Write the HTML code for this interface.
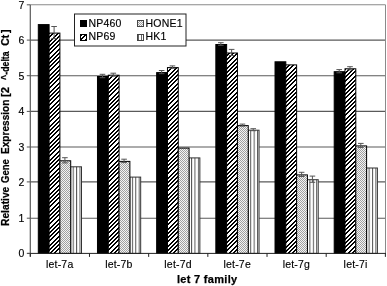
<!DOCTYPE html>
<html><head><meta charset="utf-8"><style>
html,body{margin:0;padding:0;background:#fff;}
body{width:387px;height:286px;overflow:hidden;}
svg{display:block;filter:grayscale(1) blur(0.3px);}
.t{font-family:"Liberation Sans",sans-serif;font-size:10.5px;letter-spacing:0.2px;fill:#000;stroke:#000;stroke-width:0.15px;}
.b{font-family:"Liberation Sans",sans-serif;font-size:11px;letter-spacing:0.3px;font-weight:bold;fill:#000;stroke:#000;stroke-width:0.25px;}
.yt{letter-spacing:0.03px;font-size:10.5px;}
</style></head><body>
<svg width="387" height="286" viewBox="0 0 387 286">
<defs>
<pattern id="diag" patternUnits="userSpaceOnUse" width="17" height="17"><rect width="17" height="17" fill="#fff"/><rect x="0" y="0" width="2" height="1" fill="#000"/><rect x="5" y="0" width="2" height="1" fill="#000"/><rect x="9" y="0" width="2" height="1" fill="#000"/><rect x="13" y="0" width="2" height="1" fill="#000"/><rect x="0" y="1" width="1" height="1" fill="#000"/><rect x="4" y="1" width="2" height="1" fill="#000"/><rect x="8" y="1" width="2" height="1" fill="#000"/><rect x="12" y="1" width="2" height="1" fill="#000"/><rect x="16" y="1" width="1" height="1" fill="#000"/><rect x="3" y="2" width="2" height="1" fill="#000"/><rect x="7" y="2" width="2" height="1" fill="#000"/><rect x="11" y="2" width="2" height="1" fill="#000"/><rect x="15" y="2" width="2" height="1" fill="#000"/><rect x="2" y="3" width="2" height="1" fill="#000"/><rect x="6" y="3" width="2" height="1" fill="#000"/><rect x="10" y="3" width="2" height="1" fill="#000"/><rect x="14" y="3" width="2" height="1" fill="#000"/><rect x="1" y="4" width="2" height="1" fill="#000"/><rect x="5" y="4" width="2" height="1" fill="#000"/><rect x="9" y="4" width="2" height="1" fill="#000"/><rect x="13" y="4" width="2" height="1" fill="#000"/><rect x="0" y="5" width="2" height="1" fill="#000"/><rect x="4" y="5" width="2" height="1" fill="#000"/><rect x="8" y="5" width="2" height="1" fill="#000"/><rect x="12" y="5" width="2" height="1" fill="#000"/><rect x="0" y="6" width="1" height="1" fill="#000"/><rect x="3" y="6" width="2" height="1" fill="#000"/><rect x="7" y="6" width="2" height="1" fill="#000"/><rect x="11" y="6" width="2" height="1" fill="#000"/><rect x="16" y="6" width="1" height="1" fill="#000"/><rect x="2" y="7" width="2" height="1" fill="#000"/><rect x="6" y="7" width="2" height="1" fill="#000"/><rect x="10" y="7" width="2" height="1" fill="#000"/><rect x="15" y="7" width="2" height="1" fill="#000"/><rect x="1" y="8" width="2" height="1" fill="#000"/><rect x="5" y="8" width="2" height="1" fill="#000"/><rect x="9" y="8" width="2" height="1" fill="#000"/><rect x="14" y="8" width="2" height="1" fill="#000"/><rect x="0" y="9" width="2" height="1" fill="#000"/><rect x="4" y="9" width="2" height="1" fill="#000"/><rect x="8" y="9" width="2" height="1" fill="#000"/><rect x="13" y="9" width="2" height="1" fill="#000"/><rect x="0" y="10" width="1" height="1" fill="#000"/><rect x="3" y="10" width="2" height="1" fill="#000"/><rect x="7" y="10" width="2" height="1" fill="#000"/><rect x="12" y="10" width="2" height="1" fill="#000"/><rect x="16" y="10" width="1" height="1" fill="#000"/><rect x="2" y="11" width="2" height="1" fill="#000"/><rect x="6" y="11" width="2" height="1" fill="#000"/><rect x="11" y="11" width="2" height="1" fill="#000"/><rect x="15" y="11" width="2" height="1" fill="#000"/><rect x="1" y="12" width="2" height="1" fill="#000"/><rect x="5" y="12" width="2" height="1" fill="#000"/><rect x="10" y="12" width="2" height="1" fill="#000"/><rect x="14" y="12" width="2" height="1" fill="#000"/><rect x="0" y="13" width="2" height="1" fill="#000"/><rect x="4" y="13" width="2" height="1" fill="#000"/><rect x="9" y="13" width="2" height="1" fill="#000"/><rect x="13" y="13" width="2" height="1" fill="#000"/><rect x="0" y="14" width="1" height="1" fill="#000"/><rect x="3" y="14" width="2" height="1" fill="#000"/><rect x="8" y="14" width="2" height="1" fill="#000"/><rect x="12" y="14" width="2" height="1" fill="#000"/><rect x="16" y="14" width="1" height="1" fill="#000"/><rect x="2" y="15" width="2" height="1" fill="#000"/><rect x="7" y="15" width="2" height="1" fill="#000"/><rect x="11" y="15" width="2" height="1" fill="#000"/><rect x="15" y="15" width="2" height="1" fill="#000"/><rect x="1" y="16" width="2" height="1" fill="#000"/><rect x="6" y="16" width="2" height="1" fill="#000"/><rect x="10" y="16" width="2" height="1" fill="#000"/><rect x="14" y="16" width="2" height="1" fill="#000"/></pattern>
<pattern id="dots" patternUnits="userSpaceOnUse" width="2" height="2"><rect width="2" height="2" fill="#f4f4f4"/><rect width="1" height="1" fill="#a0a0a0"/><rect x="1" y="1" width="1" height="1" fill="#a0a0a0"/></pattern>
<pattern id="vert0" patternUnits="userSpaceOnUse" x="72.70" y="0" width="3.4" height="4"><rect width="3.4" height="4" fill="#fff"/><rect width="1" height="4" fill="#555"/></pattern>
<pattern id="vert1" patternUnits="userSpaceOnUse" x="131.88" y="0" width="3.4" height="4"><rect width="3.4" height="4" fill="#fff"/><rect width="1" height="4" fill="#555"/></pattern>
<pattern id="vert2" patternUnits="userSpaceOnUse" x="191.06" y="0" width="3.4" height="4"><rect width="3.4" height="4" fill="#fff"/><rect width="1" height="4" fill="#555"/></pattern>
<pattern id="vert3" patternUnits="userSpaceOnUse" x="250.24" y="0" width="3.4" height="4"><rect width="3.4" height="4" fill="#fff"/><rect width="1" height="4" fill="#555"/></pattern>
<pattern id="vert4" patternUnits="userSpaceOnUse" x="309.42" y="0" width="3.4" height="4"><rect width="3.4" height="4" fill="#fff"/><rect width="1" height="4" fill="#555"/></pattern>
<pattern id="vert5" patternUnits="userSpaceOnUse" x="368.60" y="0" width="3.4" height="4"><rect width="3.4" height="4" fill="#fff"/><rect width="1" height="4" fill="#555"/></pattern>
<pattern id="vert" patternUnits="userSpaceOnUse" x="138" y="0" width="3" height="3"><rect width="3" height="3" fill="#fff"/><rect width="1" height="3" fill="#666"/></pattern>
</defs>
<line x1="30.3" y1="218.20" x2="385.5" y2="218.20" stroke="#5a5a5a" stroke-width="1.15"/>
<line x1="30.3" y1="181.90" x2="385.5" y2="181.90" stroke="#5a5a5a" stroke-width="1.15"/>
<line x1="30.3" y1="147.00" x2="385.5" y2="147.00" stroke="#5a5a5a" stroke-width="1.15"/>
<line x1="30.3" y1="111.40" x2="385.5" y2="111.40" stroke="#5a5a5a" stroke-width="1.15"/>
<line x1="30.3" y1="75.70" x2="385.5" y2="75.70" stroke="#5a5a5a" stroke-width="1.15"/>
<line x1="30.3" y1="40.10" x2="385.5" y2="40.10" stroke="#5a5a5a" stroke-width="1.15"/>
<line x1="30.3" y1="4.80" x2="385.5" y2="4.80" stroke="#8a8a8a" stroke-width="1.1"/>
<line x1="385.5" y1="4.80" x2="385.5" y2="253.40" stroke="#8a8a8a" stroke-width="1"/>
<rect x="38.30" y="24.60" width="10.80" height="228.80" fill="#000" stroke="#000" stroke-width="1"/>
<rect x="49.10" y="33.10" width="10.80" height="220.30" fill="url(#diag)" stroke="#000" stroke-width="1"/>
<line x1="54.10" y1="26.50" x2="54.10" y2="38.70" stroke="#555" stroke-width="1"/>
<line x1="51.30" y1="26.50" x2="56.90" y2="26.50" stroke="#555" stroke-width="1"/>
<line x1="51.30" y1="38.70" x2="56.90" y2="38.70" stroke="#555" stroke-width="1"/>
<rect x="70.70" y="166.80" width="10.80" height="86.60" fill="url(#vert0)" stroke="#333" stroke-width="1"/>
<rect x="59.90" y="160.80" width="10.80" height="92.60" fill="url(#dots)" stroke="#000" stroke-width="1"/>
<line x1="64.90" y1="157.70" x2="64.90" y2="162.90" stroke="#555" stroke-width="1"/>
<line x1="62.10" y1="157.70" x2="67.70" y2="157.70" stroke="#555" stroke-width="1"/>
<line x1="62.10" y1="162.90" x2="67.70" y2="162.90" stroke="#555" stroke-width="1"/>
<rect x="97.48" y="76.50" width="10.80" height="176.90" fill="#000" stroke="#000" stroke-width="1"/>
<line x1="102.48" y1="74.30" x2="102.48" y2="77.70" stroke="#555" stroke-width="1"/>
<line x1="99.68" y1="74.30" x2="105.28" y2="74.30" stroke="#555" stroke-width="1"/>
<line x1="99.68" y1="77.70" x2="105.28" y2="77.70" stroke="#555" stroke-width="1"/>
<rect x="108.28" y="75.20" width="10.80" height="178.20" fill="url(#diag)" stroke="#000" stroke-width="1"/>
<line x1="113.28" y1="73.20" x2="113.28" y2="76.20" stroke="#555" stroke-width="1"/>
<line x1="110.48" y1="73.20" x2="116.08" y2="73.20" stroke="#555" stroke-width="1"/>
<line x1="110.48" y1="76.20" x2="116.08" y2="76.20" stroke="#555" stroke-width="1"/>
<rect x="129.88" y="177.10" width="10.80" height="76.30" fill="url(#vert1)" stroke="#333" stroke-width="1"/>
<rect x="119.08" y="161.40" width="10.80" height="92.00" fill="url(#dots)" stroke="#000" stroke-width="1"/>
<line x1="124.08" y1="159.20" x2="124.08" y2="162.60" stroke="#555" stroke-width="1"/>
<line x1="121.28" y1="159.20" x2="126.88" y2="159.20" stroke="#555" stroke-width="1"/>
<line x1="121.28" y1="162.60" x2="126.88" y2="162.60" stroke="#555" stroke-width="1"/>
<rect x="156.66" y="72.60" width="10.80" height="180.80" fill="#000" stroke="#000" stroke-width="1"/>
<line x1="161.66" y1="70.50" x2="161.66" y2="73.70" stroke="#555" stroke-width="1"/>
<line x1="158.86" y1="70.50" x2="164.46" y2="70.50" stroke="#555" stroke-width="1"/>
<line x1="158.86" y1="73.70" x2="164.46" y2="73.70" stroke="#555" stroke-width="1"/>
<rect x="167.46" y="67.60" width="10.80" height="185.80" fill="url(#diag)" stroke="#000" stroke-width="1"/>
<line x1="172.46" y1="65.90" x2="172.46" y2="68.30" stroke="#555" stroke-width="1"/>
<line x1="169.66" y1="65.90" x2="175.26" y2="65.90" stroke="#555" stroke-width="1"/>
<line x1="169.66" y1="68.30" x2="175.26" y2="68.30" stroke="#555" stroke-width="1"/>
<rect x="189.06" y="157.90" width="10.80" height="95.50" fill="url(#vert2)" stroke="#333" stroke-width="1"/>
<rect x="178.26" y="148.10" width="10.80" height="105.30" fill="url(#dots)" stroke="#000" stroke-width="1"/>
<rect x="215.84" y="44.50" width="10.80" height="208.90" fill="#000" stroke="#000" stroke-width="1"/>
<line x1="220.84" y1="42.70" x2="220.84" y2="45.30" stroke="#555" stroke-width="1"/>
<line x1="218.04" y1="42.70" x2="223.64" y2="42.70" stroke="#555" stroke-width="1"/>
<line x1="218.04" y1="45.30" x2="223.64" y2="45.30" stroke="#555" stroke-width="1"/>
<rect x="226.64" y="53.00" width="10.80" height="200.40" fill="url(#diag)" stroke="#000" stroke-width="1"/>
<line x1="231.64" y1="49.40" x2="231.64" y2="55.60" stroke="#555" stroke-width="1"/>
<line x1="228.84" y1="49.40" x2="234.44" y2="49.40" stroke="#555" stroke-width="1"/>
<line x1="228.84" y1="55.60" x2="234.44" y2="55.60" stroke="#555" stroke-width="1"/>
<rect x="248.24" y="130.20" width="10.80" height="123.20" fill="url(#vert3)" stroke="#333" stroke-width="1"/>
<line x1="253.24" y1="128.70" x2="253.24" y2="130.70" stroke="#555" stroke-width="1"/>
<line x1="250.44" y1="128.70" x2="256.04" y2="128.70" stroke="#555" stroke-width="1"/>
<line x1="250.44" y1="130.70" x2="256.04" y2="130.70" stroke="#555" stroke-width="1"/>
<rect x="237.44" y="125.60" width="10.80" height="127.80" fill="url(#dots)" stroke="#000" stroke-width="1"/>
<line x1="242.44" y1="124.10" x2="242.44" y2="126.10" stroke="#555" stroke-width="1"/>
<line x1="239.64" y1="124.10" x2="245.24" y2="124.10" stroke="#555" stroke-width="1"/>
<line x1="239.64" y1="126.10" x2="245.24" y2="126.10" stroke="#555" stroke-width="1"/>
<rect x="275.02" y="61.80" width="10.80" height="191.60" fill="#000" stroke="#000" stroke-width="1"/>
<rect x="285.82" y="64.90" width="10.80" height="188.50" fill="url(#diag)" stroke="#000" stroke-width="1"/>
<rect x="307.42" y="179.70" width="10.80" height="73.70" fill="url(#vert4)" stroke="#333" stroke-width="1"/>
<line x1="312.42" y1="176.10" x2="312.42" y2="182.30" stroke="#555" stroke-width="1"/>
<line x1="309.62" y1="176.10" x2="315.22" y2="176.10" stroke="#555" stroke-width="1"/>
<line x1="309.62" y1="182.30" x2="315.22" y2="182.30" stroke="#555" stroke-width="1"/>
<rect x="296.62" y="174.90" width="10.80" height="78.50" fill="url(#dots)" stroke="#000" stroke-width="1"/>
<line x1="301.62" y1="172.30" x2="301.62" y2="176.50" stroke="#555" stroke-width="1"/>
<line x1="298.82" y1="172.30" x2="304.42" y2="172.30" stroke="#555" stroke-width="1"/>
<line x1="298.82" y1="176.50" x2="304.42" y2="176.50" stroke="#555" stroke-width="1"/>
<rect x="334.20" y="71.70" width="10.80" height="181.70" fill="#000" stroke="#000" stroke-width="1"/>
<line x1="339.20" y1="69.60" x2="339.20" y2="72.80" stroke="#555" stroke-width="1"/>
<line x1="336.40" y1="69.60" x2="342.00" y2="69.60" stroke="#555" stroke-width="1"/>
<line x1="336.40" y1="72.80" x2="342.00" y2="72.80" stroke="#555" stroke-width="1"/>
<rect x="345.00" y="68.80" width="10.80" height="184.60" fill="url(#diag)" stroke="#000" stroke-width="1"/>
<line x1="350.00" y1="66.70" x2="350.00" y2="69.90" stroke="#555" stroke-width="1"/>
<line x1="347.20" y1="66.70" x2="352.80" y2="66.70" stroke="#555" stroke-width="1"/>
<line x1="347.20" y1="69.90" x2="352.80" y2="69.90" stroke="#555" stroke-width="1"/>
<rect x="366.60" y="168.00" width="10.80" height="85.40" fill="url(#vert5)" stroke="#333" stroke-width="1"/>
<rect x="355.80" y="145.90" width="10.80" height="107.50" fill="url(#dots)" stroke="#000" stroke-width="1"/>
<line x1="360.80" y1="143.40" x2="360.80" y2="147.40" stroke="#555" stroke-width="1"/>
<line x1="358.00" y1="143.40" x2="363.60" y2="143.40" stroke="#555" stroke-width="1"/>
<line x1="358.00" y1="147.40" x2="363.60" y2="147.40" stroke="#555" stroke-width="1"/>
<line x1="30.3" y1="4.80" x2="30.3" y2="256.40" stroke="#5a5a5a" stroke-width="1.2"/>
<line x1="27.3" y1="253.40" x2="386.0" y2="253.40" stroke="#222" stroke-width="1"/>
<line x1="26.8" y1="253.40" x2="30.3" y2="253.40" stroke="#555" stroke-width="1"/>
<text x="24.6" y="257.30" text-anchor="end" class="t">0</text>
<line x1="26.8" y1="218.20" x2="30.3" y2="218.20" stroke="#555" stroke-width="1"/>
<text x="24.6" y="222.10" text-anchor="end" class="t">1</text>
<line x1="26.8" y1="181.90" x2="30.3" y2="181.90" stroke="#555" stroke-width="1"/>
<text x="24.6" y="185.80" text-anchor="end" class="t">2</text>
<line x1="26.8" y1="147.00" x2="30.3" y2="147.00" stroke="#555" stroke-width="1"/>
<text x="24.6" y="150.90" text-anchor="end" class="t">3</text>
<line x1="26.8" y1="111.40" x2="30.3" y2="111.40" stroke="#555" stroke-width="1"/>
<text x="24.6" y="115.30" text-anchor="end" class="t">4</text>
<line x1="26.8" y1="75.70" x2="30.3" y2="75.70" stroke="#555" stroke-width="1"/>
<text x="24.6" y="79.60" text-anchor="end" class="t">5</text>
<line x1="26.8" y1="40.10" x2="30.3" y2="40.10" stroke="#555" stroke-width="1"/>
<text x="24.6" y="44.00" text-anchor="end" class="t">6</text>
<line x1="26.8" y1="4.80" x2="30.3" y2="4.80" stroke="#555" stroke-width="1"/>
<text x="24.6" y="8.70" text-anchor="end" class="t">7</text>
<line x1="30.30" y1="253.40" x2="30.30" y2="256.90" stroke="#222" stroke-width="1"/>
<line x1="89.48" y1="253.40" x2="89.48" y2="256.90" stroke="#222" stroke-width="1"/>
<line x1="148.66" y1="253.40" x2="148.66" y2="256.90" stroke="#222" stroke-width="1"/>
<line x1="207.84" y1="253.40" x2="207.84" y2="256.90" stroke="#222" stroke-width="1"/>
<line x1="267.02" y1="253.40" x2="267.02" y2="256.90" stroke="#222" stroke-width="1"/>
<line x1="326.20" y1="253.40" x2="326.20" y2="256.90" stroke="#222" stroke-width="1"/>
<line x1="385.38" y1="253.40" x2="385.38" y2="256.90" stroke="#222" stroke-width="1"/>
<text x="59.69" y="268.4" text-anchor="middle" class="t">let-7a</text>
<text x="118.87" y="268.4" text-anchor="middle" class="t">let-7b</text>
<text x="178.05" y="268.4" text-anchor="middle" class="t">let-7d</text>
<text x="237.23" y="268.4" text-anchor="middle" class="t">let-7e</text>
<text x="296.41" y="268.4" text-anchor="middle" class="t">let-7g</text>
<text x="355.59" y="268.4" text-anchor="middle" class="t">let-7i</text>
<text x="207.2" y="283.2" text-anchor="middle" class="b">let 7 family</text>
<g transform="translate(8.8,0) rotate(-90)" class="b yt">
<text x="-226.00" y="0" textLength="39.30" lengthAdjust="spacingAndGlyphs">Relative</text>
<text x="-183.00" y="0" textLength="23.80" lengthAdjust="spacingAndGlyphs">Gene</text>
<text x="-154.00" y="0" textLength="54.40" lengthAdjust="spacingAndGlyphs">Expression</text>
<text x="-97.00" y="0" textLength="10.00" lengthAdjust="spacingAndGlyphs">[2</text>
<text x="-79.90" y="0" textLength="28.60" lengthAdjust="spacingAndGlyphs">^-delta</text>
<text x="-45.70" y="0" textLength="11.00" lengthAdjust="spacingAndGlyphs">Ct</text>
<text x="-32.90" y="0">]</text>
</g>
<rect x="74.5" y="14" width="111.5" height="32" fill="#fff" stroke="#222" stroke-width="1"/>
<rect x="80.5" y="20.5" width="6" height="6" fill="#000" stroke="#000"/>
<rect x="80.5" y="34.5" width="6" height="6" fill="url(#diag)" stroke="#000"/>
<rect x="137.5" y="20.5" width="6" height="6" fill="url(#dots)" stroke="#444"/>
<rect x="137.5" y="34.5" width="6" height="6" fill="url(#vert)" stroke="#444"/>
<text x="88.5" y="26.5" class="t">NP460</text>
<text x="88.5" y="40.2" class="t">NP69</text>
<text x="145.5" y="26.5" class="t">HONE1</text>
<text x="145.5" y="40.2" class="t">HK1</text>
</svg>
</body></html>
